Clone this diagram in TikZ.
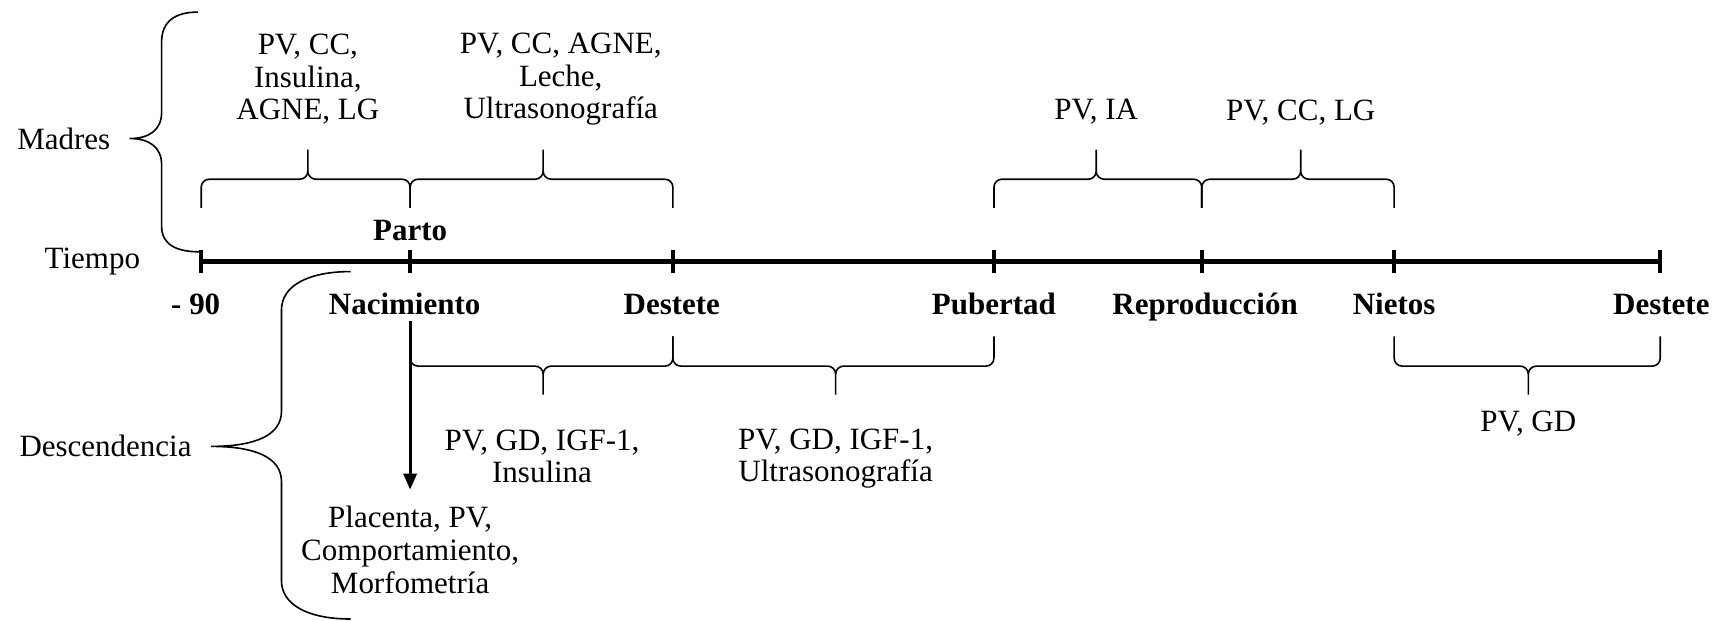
\documentclass[tikz,border=0pt]{standalone}
\usepackage{fontspec}
\setmainfont{Liberation Serif}
\usetikzlibrary{arrows.meta}

\begin{document}
\begin{tikzpicture}[x=0.55pt, y=-0.55pt,
    txt/.style={font=\fontsize{15.5}{16.4}\selectfont, align=center, inner sep=0pt},
    ev/.style={txt, font=\fontsize{15.5}{16.4}\selectfont\bfseries, anchor=base},
    eje/.style={line width=2.2pt},
    brc/.style={line width=0.8pt, rounded corners=4pt},
    arr/.style={line width=1.6pt, -{Triangle[length=8pt,width=6.5pt]}}]
   \useasboundingbox (0,0) rectangle (1568,564);

   % eje del tiempo
   \coordinate (t0) at (183,238);
   \coordinate (t1) at (373,238);
   \coordinate (t2) at (612,238);
   \coordinate (t3) at (904,238);
   \coordinate (t4) at (1093,238);
   \coordinate (t5) at (1268,238);
   \coordinate (t6) at (1510,238);
   \draw[eje] (t0) -- (t6);
   \foreach \t in {t0,t1,t2,t3,t4,t5,t6}
      \draw[eje] ([yshift=5.8pt]\t) -- ([yshift=-5.8pt]\t);

   % etapas
   \node[txt] (tiempo) at (84,238) {Tiempo};
   \node[ev] (parto) at (373,219) {Parto};
   \node[ev] (m90) at (178,286) {- 90};
   \node[ev] (nac) at (368,286) {Nacimiento};
   \node[ev] (dest1) at (611,286) {Destete};
   \node[ev] (pub) at (904,286) {Pubertad};
   \node[ev] (rep) at (1096,286) {Reproducción};
   \node[ev] (nietos) at (1268,286) {Nietos};
   \node[ev] (dest2) at (1511,286) {Destete};

   % madres
   \node[txt] (madres) at (58,126) {Madres};
   \draw[line width=0.8pt] (180,11) .. controls (160,11) and (147,19) .. (147,38)
      -- (147,102) .. controls (147,118) and (136,126) .. (118,126)
      .. controls (136,126) and (147,134) .. (147,150)
      -- (147,206) .. controls (147,222) and (160,229) .. (181,229);
   \node[txt] (mv1) at (280,72) {PV, CC,\\Insulina,\\AGNE, LG};
   \node[txt] (mv2) at (510,72) {PV, CC, AGNE,\\Leche,\\Ultrasonografía};
   \node[txt] (mv3) at (997,102) {PV, IA};
   \node[txt] (mv4) at (1183,102) {PV, CC, LG};
   \foreach \xa/\xt/\xb in {183/280/373, 373/494/612, 904/997/1093, 1093/1183/1268}
      \draw[brc] (\xt,136) -- (\xt,163) -| (\xa,189) (\xt,136) -- (\xt,163) -| (\xb,189);

   % descendencia
   \node[txt] (desc) at (96,406) {Descendencia};
   \draw[line width=0.8pt] (319,247) .. controls (280,247) and (256,260) .. (256,282)
      -- (256,374) .. controls (256,396) and (232,406) .. (192,406)
      .. controls (232,406) and (256,416) .. (256,438)
      -- (256,528) .. controls (256,550) and (280,563) .. (319,563);
   \node[txt] (dv1) at (493,415) {PV, GD, IGF-1,\\Insulina};
   \node[txt] (dv2) at (760,417) {PV, GD, IGF-1,\\Ultrasonografía};
   \node[txt] (dv3) at (1390,385) {PV, GD};
   \node[txt] (plac) at (373,500) {Placenta, PV,\\Comportamiento,\\Morfometría};
   \foreach \xa/\xt/\xb in {373/494/612, 612/760/904, 1268/1390/1510}
      \draw[brc] (\xt,359) -- (\xt,333) -| (\xa,306) (\xt,359) -- (\xt,333) -| (\xb,306);
   \draw[arr, shorten <=3pt, shorten >=8pt] (t1 |- nac.south) -- (t1 |- plac.north);
\end{tikzpicture}
\end{document}
